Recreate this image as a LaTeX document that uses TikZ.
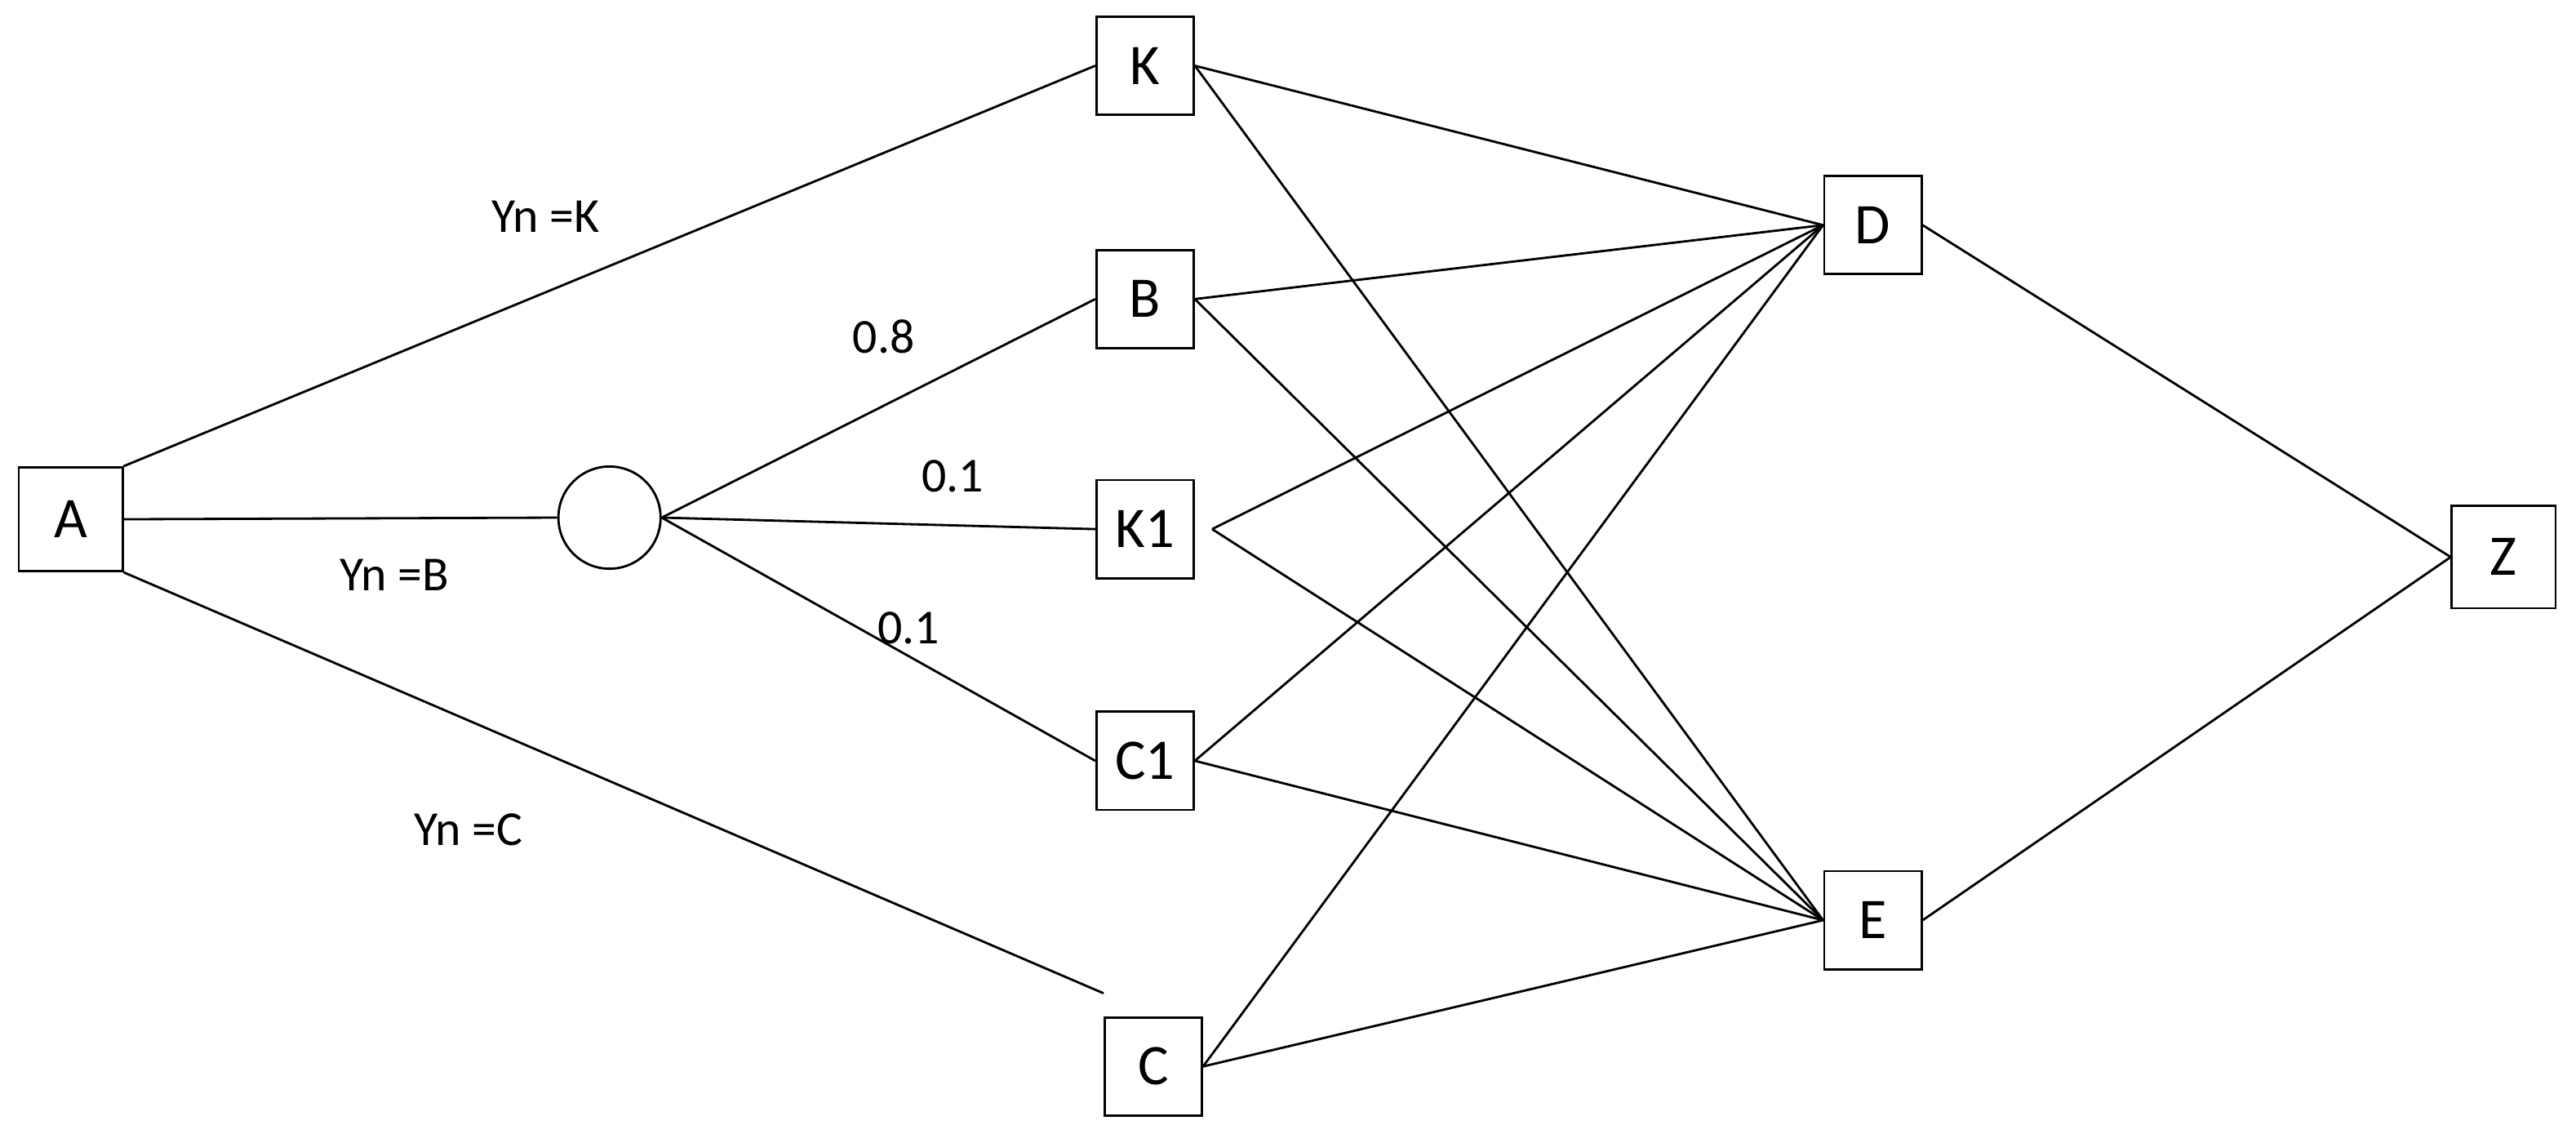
\documentclass[tikz,border=0pt]{standalone}
\usepackage{fontspec}
\setmainfont{Carlito}
\usetikzlibrary{positioning}
\tikzset{
  box/.style={draw, line width=0.8pt, minimum width=1.19cm, minimum height=1.2cm, inner sep=0pt, font=\fontsize{20}{24}\selectfont},
  lbl/.style={font=\fontsize{17}{20}\selectfont},
}
\begin{document}
\begin{tikzpicture}[x=0.0201cm, y=-0.0201cm, line width=0.8pt]
	\useasboundingbox (0,0) rectangle (1568,690);

	\node[box, minimum width=1.27cm, minimum height=1.27cm] (A) at (43,316) {A};
	\node[draw, circle, minimum size=1.25cm, inner sep=0pt] (o) at (371,315) {};
	\node[box] (K) at (697,40) {K};
	\node[box] (B) at (697,182) {B};
	\node[box] (K1) at (697,322) {K1};
	\node[box] (C1) at (697,463) {C1};
	\node[box] (C) at (702,649) {C};
	\node[box] (D) at (1140,137) {D};
	\node[box] (E) at (1140,560) {E};
	\node[box, minimum width=1.27cm, minimum height=1.25cm] (Z) at (1524,339) {Z};

	\node[lbl] (yk) at (332,132) {Yn =K};
	\node[lbl] (yb) at (240,350) {Yn =B};
	\node[lbl] (yc) at (285,505) {Yn =C};
	\node[lbl] (p1) at (538,205) {0.8};
	\node[lbl] (p2) at (580,290) {0.1};
	\node[lbl] (p3) at (553,382) {0.1};

	% first stage
	\draw (A.north east) -- (K.west);
	\draw (A.east) -- (o.west);
	\draw (A.south east) -- ([yshift=8]C.north west);
	\draw (o.east) -- (B.west);
	\draw (o.east) -- (K1.west);
	\draw (o.east) -- (C1.west);

	% middle stage
	\foreach \n in {K, B, C1, C} {
		\draw (\n.east) -- (D.west);
		\draw (\n.east) -- (E.west);
	}
	\draw ([xshift=6]K1.east) -- (D.west);
	\draw ([xshift=6]K1.east) -- (E.west);

	% last stage
	\draw (D.east) -- (Z.west);
	\draw (E.east) -- (Z.west);
\end{tikzpicture}
\end{document}
